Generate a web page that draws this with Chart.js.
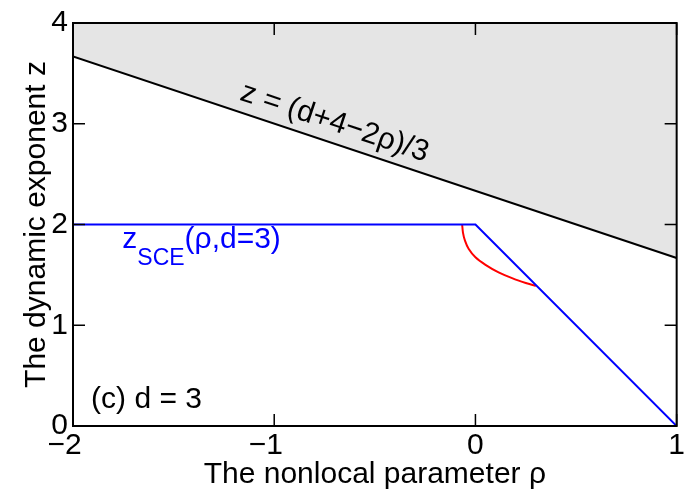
<!DOCTYPE html>
<html>
<head>
<meta charset="utf-8">
<script src="https://cdn.jsdelivr.net/npm/chart.js@4.4.0/dist/chart.umd.min.js"></script>
<style>
  html, body { margin: 0; padding: 0; background: #fff; }
</style>
</head>
<body>
<canvas id="myChart" width="687" height="491"></canvas>
<script>
// ===== data =====
const xTicks = [-2, -1, 0, 1];
const yTicks = [0, 1, 2, 3, 4];

// upper bound z = (d+4-2rho)/3 with d = 3
const rhoBound = [-2, 1];
const zBound = [3.667, 1.667];

// z_SCE(rho, d=3)
const rhoSce = [-2, 0, 1];
const zSce = [2, 2, 0];

// red curve
const rhoRed = [-0.066, -0.062, -0.052, -0.034, 0.0, 0.05, 0.115, 0.185, 0.25, 0.3];
const zRed = [2.0, 1.92, 1.84, 1.76, 1.675, 1.6, 1.525, 1.465, 1.42, 1.39];

const FONT = "'Liberation Sans', Arial, Helvetica, sans-serif";

function pts(xs, ys) {
  return xs.map((v, i) => ({ x: v, y: ys[i] }));
}

function minusLabel(v) {
  // matlab puts the number itself on the tick, minus sticks out to the left
  return v < 0 ? "\u2212" + Math.abs(v) + "\u2007" : String(v);
}

// ===== frame, inward ticks and the text labels =====
const decor = {
  id: "decor",
  afterDatasetsDraw(chart) {
    const { ctx, chartArea: a, scales } = chart;
    const x = scales.x, y = scales.y;
    ctx.save();
    ctx.strokeStyle = "#000";
    ctx.lineWidth = 1.5;
    ctx.beginPath();
    xTicks.forEach((v) => {
      const px = x.getPixelForValue(v);
      ctx.moveTo(px, a.bottom); ctx.lineTo(px, a.bottom - 12);
      ctx.moveTo(px, a.top); ctx.lineTo(px, a.top + 12);
    });
    yTicks.forEach((v) => {
      const py = y.getPixelForValue(v);
      ctx.moveTo(a.left, py); ctx.lineTo(a.left + 12, py);
      ctx.moveTo(a.right, py); ctx.lineTo(a.right - 12, py);
    });
    ctx.stroke();
    ctx.lineWidth = 2;
    ctx.strokeRect(a.left, a.top, a.right - a.left, a.bottom - a.top);

    // z = (d+4-2rho)/3 along the bound line
    const ang = Math.atan2(
      y.getPixelForValue(zBound[1]) - y.getPixelForValue(zBound[0]),
      x.getPixelForValue(rhoBound[1]) - x.getPixelForValue(rhoBound[0])
    );
    ctx.fillStyle = "#000";
    ctx.font = "30px " + FONT;
    ctx.translate(x.getPixelForValue(-0.7), y.getPixelForValue(3.01));
    ctx.rotate(ang);
    ctx.textAlign = "center";
    ctx.textBaseline = "middle";
    ctx.fillText("z = (d+4\u22122\u03c1)/3", 0, 0);
    ctx.setTransform(1, 0, 0, 1, 0, 0);

    // z_SCE(rho,d=3)
    ctx.textAlign = "left";
    ctx.textBaseline = "alphabetic";
    ctx.fillStyle = "#0000ff";
    let tx = x.getPixelForValue(-1.755);
    const ty = y.getPixelForValue(1.77);
    ctx.font = "30px " + FONT;
    ctx.fillText("z", tx, ty);
    tx += ctx.measureText("z").width;
    ctx.font = "23px " + FONT;
    ctx.fillText("SCE", tx, ty + 17);
    tx += ctx.measureText("SCE").width;
    ctx.font = "30px " + FONT;
    ctx.fillText("(\u03c1,d=3)", tx, ty);

    // panel label
    ctx.fillStyle = "#000";
    ctx.fillText("(c) d = 3", x.getPixelForValue(-1.91), y.getPixelForValue(0.175));

    // axis titles
    ctx.textAlign = "center";
    ctx.fillText("The nonlocal parameter \u03c1", (a.left + a.right) / 2, 483);
    ctx.translate(45, (a.top + a.bottom) / 2);
    ctx.rotate(-Math.PI / 2);
    ctx.fillText("The dynamic exponent z", 0, 0);
    ctx.restore();
  },
};

const tickFont = { family: FONT, size: 30 };

new Chart(document.getElementById("myChart"), {
  type: "line",
  data: {
    datasets: [
      {
        data: pts(rhoBound, zBound),
        borderColor: "#000",
        borderWidth: 2,
        backgroundColor: "#e5e5e5",
        fill: "end",
        pointRadius: 0,
      },
      {
        data: pts(rhoSce, zSce),
        borderColor: "#0000ff",
        borderWidth: 2,
        fill: false,
        pointRadius: 0,
      },
      {
        data: pts(rhoRed, zRed),
        borderColor: "#ff0000",
        borderWidth: 2,
        fill: false,
        pointRadius: 0,
        tension: 0.3,
      },
    ],
  },
  options: {
    responsive: false,
    animation: false,
    devicePixelRatio: 1,
    layout: { padding: { top: 21, right: 6, left: 0, bottom: 0 }, autoPadding: false },
    plugins: { legend: { display: false }, tooltip: { enabled: false } },
    scales: {
      x: {
        type: "linear",
        min: -2,
        max: 1,
        afterBuildTicks: (s) => { s.ticks = xTicks.map((v) => ({ value: v })); },
        afterFit: (s) => { s.height = 65; },
        grid: { display: false, drawTicks: false },
        border: { display: false },
        ticks: { font: tickFont, color: "#000", padding: 2, maxRotation: 0, callback: minusLabel },
      },
      y: {
        type: "linear",
        min: 0,
        max: 4,
        afterBuildTicks: (s) => { s.ticks = yTicks.map((v) => ({ value: v })); },
        afterFit: (s) => { s.width = 73; },
        grid: { display: false, drawTicks: false },
        border: { display: false },
        ticks: { font: tickFont, color: "#000", padding: 5, callback: minusLabel },
      },
    },
  },
  plugins: [decor],
});
</script>
</body>
</html>
